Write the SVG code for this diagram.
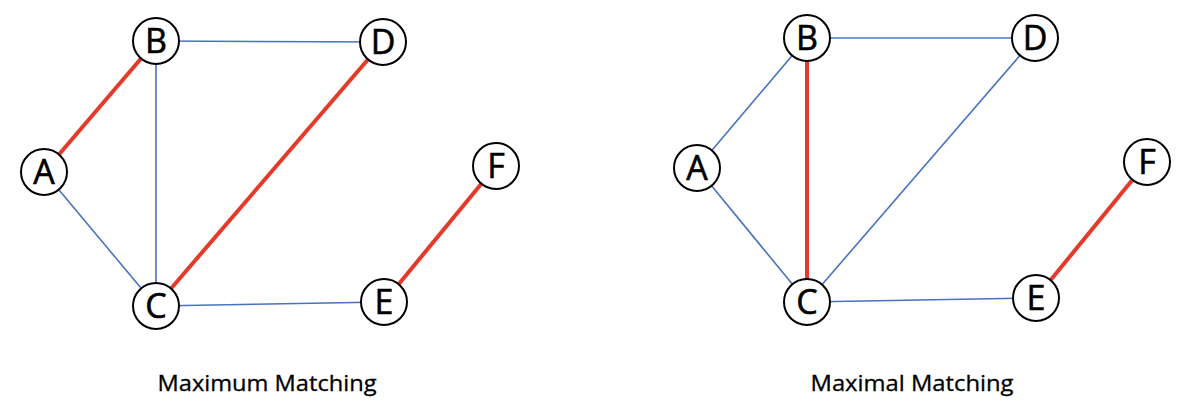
<svg xmlns="http://www.w3.org/2000/svg" width="1196" height="416" viewBox="0 0 1196 416">
<style>
.blue{stroke:#4A72C0;stroke-width:1.6;fill:none}
.red{stroke:#E53A2A;stroke-width:4;fill:none}
.node circle{fill:#fff;stroke:#000;stroke-width:2}
.node text{font-family:"Open Sans","Liberation Sans",sans-serif;font-size:34px;text-anchor:middle;fill:#000;stroke:#000;stroke-width:0.6}
.cap{font-family:"Open Sans","Liberation Sans",sans-serif;font-size:22px;text-anchor:middle;fill:#000;stroke:#000;stroke-width:0.3}
</style>
<rect width="1196" height="416" fill="#fff"/>
<g id="connectors">
<line class="red" x1="44" y1="172" x2="156" y2="41"/>
<line class="blue" x1="156" y1="41" x2="383" y2="42"/>
<line class="blue" x1="156" y1="41" x2="156" y2="306"/>
<line class="blue" x1="44" y1="172" x2="156" y2="306"/>
<line class="red" x1="156" y1="306" x2="383" y2="42"/>
<line class="blue" x1="156" y1="306" x2="384" y2="302"/>
<line class="red" x1="384" y1="302" x2="496" y2="166"/>
<line class="blue" x1="697" y1="168" x2="807" y2="38"/>
<line class="red" x1="807" y1="38" x2="807" y2="302"/>
<line class="blue" x1="807" y1="38" x2="1035" y2="38"/>
<line class="blue" x1="697" y1="168" x2="807" y2="302"/>
<line class="blue" x1="807" y1="302" x2="1035" y2="38"/>
<line class="blue" x1="807" y1="302" x2="1036" y2="298"/>
<line class="red" x1="1036" y1="298" x2="1147" y2="162"/>
</g>
<g id="L_A" class="node"><circle cx="44" cy="172" r="23"/><text x="44" y="184">A</text></g>
<g id="L_B" class="node"><circle cx="156" cy="41" r="23"/><text x="156" y="53">B</text></g>
<g id="L_C" class="node"><circle cx="156" cy="306" r="23"/><text x="156" y="318">C</text></g>
<g id="L_D" class="node"><circle cx="383" cy="42" r="23"/><text x="383" y="54">D</text></g>
<g id="L_E" class="node"><circle cx="384" cy="302" r="23"/><text x="384" y="314">E</text></g>
<g id="L_F" class="node"><circle cx="496" cy="166" r="23"/><text x="496" y="178">F</text></g>
<g id="R_A" class="node"><circle cx="697" cy="168" r="23"/><text x="697" y="180">A</text></g>
<g id="R_B" class="node"><circle cx="807" cy="38" r="23"/><text x="807" y="50">B</text></g>
<g id="R_C" class="node"><circle cx="807" cy="302" r="23"/><text x="807" y="314">C</text></g>
<g id="R_D" class="node"><circle cx="1035" cy="38" r="23"/><text x="1035" y="50">D</text></g>
<g id="R_E" class="node"><circle cx="1036" cy="298" r="23"/><text x="1036" y="310">E</text></g>
<g id="R_F" class="node"><circle cx="1147" cy="162" r="23"/><text x="1147" y="174">F</text></g>
<g id="captions">
<text class="cap" x="267" y="391" textLength="219" lengthAdjust="spacingAndGlyphs">Maximum Matching</text>
<text class="cap" x="912" y="391" textLength="203" lengthAdjust="spacingAndGlyphs">Maximal Matching</text>
</g>
</svg>
